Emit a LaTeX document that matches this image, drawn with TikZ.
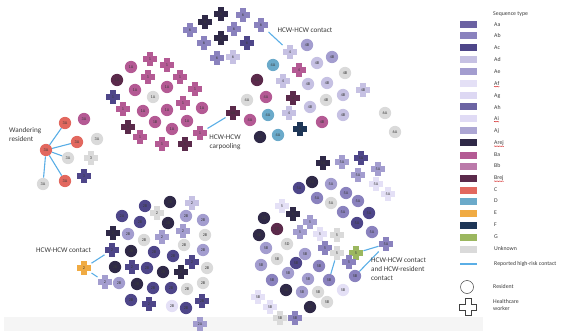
\documentclass[tikz,border=0pt]{standalone}
\usepackage{fontspec}
\setmainfont{Carlito}
\usetikzlibrary{decorations.pathmorphing}
\definecolor{Aa}{HTML}{6B62A2}
\definecolor{Ab}{HTML}{8A82BE}
\definecolor{Ac}{HTML}{4E4689}
\definecolor{Ad}{HTML}{C6C1E3}
\definecolor{Ae}{HTML}{A39DCF}
\definecolor{Af}{HTML}{E4E0F6}
\definecolor{Ag}{HTML}{DDD8F3}
\definecolor{Ah}{HTML}{6C64A3}
\definecolor{Ai}{HTML}{E0DBF5}
\definecolor{Aj}{HTML}{ACA6D3}
\definecolor{Arej}{HTML}{2F2947}
\definecolor{Ba}{HTML}{B45A94}
\definecolor{Bb}{HTML}{BB7AAA}
\definecolor{Brej}{HTML}{5B2A4B}
\definecolor{Cc}{HTML}{E2685F}
\definecolor{Dd}{HTML}{6BAACA}
\definecolor{Ee}{HTML}{F0AB43}
\definecolor{Ff}{HTML}{1E3657}
\definecolor{Gg}{HTML}{9BB75F}
\definecolor{Un}{HTML}{DADADA}
\definecolor{Lk}{HTML}{5AAEE6}
\definecolor{Tx}{HTML}{3A3A3A}
\newcommand\rc[4]{\node[res,fill=#3] (#1) at (#2) {#4};}
\newcommand\hw[4]{\node[hcw=#3] (#1) at (#2) {#4};}
\newcommand\lgi[3]{\node[swatch,fill=#2] (s#1) at (468,#3) {};\node[lgt] (t#1) at (494,#3) {#1};}
\begin{document}
\begin{tikzpicture}[x=1pt,y=-1pt,
  res/.style={circle,minimum size=12.3pt,inner sep=0pt,font=\fontsize{4.2}{4.2}\selectfont,text=Tx},
  hcw/.style={rectangle,minimum size=14.6pt,inner sep=0pt,font=\fontsize{4.2}{4.2}\selectfont,text=Tx,
    path picture={
      \fill[#1] ([shift={(-7.3pt,-2.9pt)}]path picture bounding box.center) rectangle ([shift={(7.3pt,2.9pt)}]path picture bounding box.center);
      \fill[#1] ([shift={(-2.9pt,-7.3pt)}]path picture bounding box.center) rectangle ([shift={(2.9pt,7.3pt)}]path picture bounding box.center);}},
  link/.style={draw=Lk,line width=1.1pt},
  note/.style={font=\fontsize{7.2}{9}\selectfont,text=Tx,inner sep=0pt},
  swatch/.style={rectangle,minimum width=17pt,minimum height=7pt,inner sep=0pt},
  lgt/.style={anchor=west,font=\fontsize{5.8}{7}\selectfont,text=Tx,inner sep=0pt},
  squig/.style={draw=red!80!black,line width=0.3pt,decorate,decoration={snake,amplitude=0.35pt,segment length=1.6pt}}]
\useasboundingbox (0,0) rectangle (561,331);
\fill[black!4] (4,317) rectangle (483,331);
% ---------- cluster 6
\hw{a1}{190,30}{Ab}{6}
\hw{a2}{205,22}{Arej}{6}
\hw{a3}{221,14}{Arej}{6}
\hw{a4}{243,15}{Ab}{6}
\hw{a5}{234,29}{Ab}{6}
\hw{a6}{261,25}{Ab}{6}
\hw{a7}{204,43}{Ab}{6}
\hw{a8}{221,38}{Arej}{6}
\hw{a9}{247,43}{Ac}{6}
\hw{a10}{217,58}{Ab}{6}
\hw{a11}{233,57}{Ad}{6}
% ---------- cluster 4
\hw{b1}{290,52}{Ad}{4}
\rc{b2}{307,45}{Ae}{4B}
\rc{b3}{332,57}{Ae}{4B}
\rc{b4}{317,63}{Ad}{4B}
\rc{b5}{273,65}{Dd}{4A}
\hw{b6}{299,70}{Ba}{4}
\rc{b7}{345,73}{Un}{4B}
\rc{b8}{257,80}{Brej}{4A}
\hw{b9}{283,81}{Ad}{4}
\rc{b10}{308,84}{Ad}{4B}
\rc{b11}{327,83}{Ad}{4B}
\hw{b12}{363,90}{Ad}{4B}
\rc{b13}{247,100}{Un}{4A}
\rc{b14}{266,97}{Ba}{4A}
\hw{b15}{293,98}{Brej}{4}
\rc{b16}{310,107}{Ad}{4B}
\rc{b17}{326,100}{Un}{4B}
\rc{b18}{343,95}{Ad}{4B}
\hw{b19}{233,113}{Brej}{4A}
\rc{b20}{250,120}{Ba}{4A}
\rc{b21}{268,115}{Dd}{4A}
\hw{b22}{289,113}{Ad}{4}
\rc{b23}{343,115}{Ad}{4B}
\rc{b24}{385,113}{Un}{6A}
\rc{b25}{260,137}{Arej}{4A}
\rc{b26}{278,135}{Dd}{4A}
\hw{b27}{300,129}{Ff}{4}
\rc{b28}{322,122}{Ba}{4B}
\rc{b29}{395,132}{Un}{6A}
% ---------- cluster 1
\hw{c1}{150,59}{Ba}{1}
\hw{c2}{167,65}{Ba}{1}
\rc{c3}{131,67}{Ba}{1A}
\hw{c4}{148,77}{Ba}{1}
\hw{c5}{180,77}{Ba}{1}
\rc{c6}{117,80}{Brej}{1A}
\rc{c7}{135,90}{Ba}{1A}
\rc{c8}{167,87}{Ba}{1A}
\hw{c9}{195,89}{Ba}{1}
\hw{c10}{113,97}{Ac}{1}
\rc{c11}{153,97}{Un}{1A}
\hw{c12}{123,109}{Ba}{1}
\rc{c13}{143,111}{Ba}{1A}
\rc{c14}{167,110}{Ba}{1A}
\hw{c15}{183,103}{Ba}{1}
\rc{c16}{202,108}{Ba}{1A}
\hw{c17}{128,127}{Brej}{1}
\rc{c18}{155,122}{Ba}{1B}
\rc{c19}{187,121}{Ba}{1A}
\rc{c20}{172,129}{Ba}{1A}
\hw{c21}{200,133}{Ba}{1}
\hw{c22}{140,137}{Ba}{1}
\hw{c23}{162,144}{Ba}{1}
\hw{c24}{185,144}{Brej}{1}
% ---------- cluster 3
\rc{d1}{46,150}{Cc}{3A}
\rc{d2}{65,123}{Cc}{3A}
\rc{d3}{84,119}{Ba}{3A}
\rc{d4}{77,142}{Cc}{3A}
\rc{d5}{97,139}{Un}{3A}
\rc{d6}{68,158}{Un}{3A}
\hw{d7}{91,158}{Un}{3}
\rc{d8}{43,184}{Un}{3A}
\rc{d9}{65,181}{Cc}{3A}
\hw{d10}{84,176}{Ac}{3}
% ---------- cluster 2
\hw{e1}{84,268}{Ee}{2}
\hw{e2}{112,250}{Ac}{2}
\hw{e3}{105,282}{Ae}{2}
\rc{e4}{145,206}{Ac}{2B}
\rc{e5}{170,202}{Arej}{2B}
\hw{e6}{192,203}{Ad}{2}
\rc{e7}{122,216}{Ac}{2A}
\hw{e8}{157,213}{Un}{2}
\rc{e9}{140,222}{Ac}{2B}
\rc{e10}{168,223}{Arej}{2B}
\rc{e11}{186,216}{Ae}{2B}
\rc{e12}{203,220}{Ae}{2B}
\hw{e13}{113,233}{Arej}{2}
\rc{e14}{128,234}{Ae}{2B}
\rc{e15}{144,240}{Un}{2B}
\hw{e16}{162,237}{Ae}{2}
\hw{e17}{183,231}{Ae}{2}
\rc{e18}{205,235}{Un}{2B}
\rc{e19}{184,245}{Un}{2B}
\rc{e20}{131,251}{Arej}{2B}
\rc{e21}{154,252}{Ac}{2B}
\rc{e22}{173,256}{Ac}{2B}
\rc{e23}{203,250}{Ae}{2B}
\hw{e24}{192,262}{Ac}{2}
\rc{e25}{115,267}{Arej}{2B}
\hw{e26}{132,267}{Ac}{2}
\rc{e27}{147,268}{Ac}{2B}
\rc{e28}{163,272}{Arej}{2B}
\hw{e29}{181,272}{Arej}{2}
\rc{e30}{207,268}{Un}{2B}
\rc{e31}{119,283}{Ae}{2B}
\rc{e32}{137,284}{Arej}{2B}
\rc{e33}{153,288}{Ac}{2B}
\rc{e34}{171,288}{Ac}{2B}
\rc{e35}{187,289}{Un}{2B}
\rc{e36}{203,283}{Un}{2B}
\rc{e37}{131,300}{Ac}{2B}
\hw{e38}{149,304}{Ac}{2}
\rc{e39}{172,306}{Af}{2B}
\rc{e40}{186,308}{Ac}{2B}
\hw{e41}{202,301}{Ac}{2B}
\hw{e42}{200,324}{Ae}{2A}
% ---------- cluster 5
\hw{f1}{323,163}{Arej}{5A}
\hw{f2}{342,162}{Ae}{5A}
\hw{f3}{361,158}{Ac}{5A}
\hw{f4}{358,175}{Ae}{5A}
\hw{f5}{378,169}{Ae}{5A}
\rc{f6}{312,182}{Arej}{5A}
\rc{f7}{299,188}{Ac}{5A}
\rc{f8}{331,184}{Ae}{5A}
\hw{f9}{376,184}{Af}{5A}
\rc{f10}{346,193}{Ab}{5A}
\hw{f11}{388,194}{Af}{5A}
\rc{f12}{317,198}{Ab}{5A}
\rc{f13}{331,203}{Un}{5A}
\rc{f14}{358,201}{Ab}{5A}
\hw{f15}{282,206}{Af}{5}
\rc{f16}{343,212}{Ab}{5A}
\rc{f17}{369,213}{Ac}{5A}
\hw{f18}{293,214}{Arej}{5}
\rc{f19}{264,218}{Arej}{5D}
\hw{f20}{310,222}{Ae}{5}
\rc{f21}{357,223}{Ac}{5A}
\rc{f22}{277,229}{Brej}{5D}
\hw{f23}{300,232}{Ae}{5}
\hw{f24}{320,234}{Af}{5}
\hw{f25}{337,235}{Un}{5}
\rc{f26}{372,232}{Ab}{5A}
\rc{f27}{259,235}{Arej}{5B}
\rc{f28}{287,244}{Un}{5D}
\hw{f29}{386,244}{Ab}{5A}
\rc{f30}{266,248}{Ae}{5B}
\hw{f31}{325,248}{Ab}{5}
\hw{f32}{337,253}{Un}{5}
\hw{f33}{356,253}{Gg}{5}
\rc{f34}{305,254}{Ae}{5B}
\rc{f35}{277,259}{Un}{5B}
\hw{f36}{349,262}{Ab}{5}
\rc{f37}{296,263}{Ac}{5B}
\rc{f38}{261,265}{Ae}{5B}
\rc{f39}{319,266}{Ab}{5B}
\rc{f40}{288,273}{Ae}{5B}
\rc{f41}{355,276}{Ab}{5B}
\rc{f42}{272,280}{Ab}{5B}
\rc{f43}{308,279}{Ae}{5B}
\rc{f44}{329,280}{Ab}{5B}
\rc{f45}{343,290}{Af}{5B}
\rc{f46}{286,290}{Arej}{5B}
\rc{f47}{302,292}{Ae}{5B}
\rc{f48}{318,292}{Un}{5B}
\rc{f49}{327,302}{Un}{5B}
\hw{f50}{258,297}{Af}{5B}
\rc{f51}{310,307}{Arej}{5D}
\hw{f52}{270,307}{Af}{5B}
\hw{f53}{280,318}{Un}{5B}
\hw{f54}{295,318}{Ab}{5B}
% ---------- connectors
\draw[link] (a6) -- (b1);
\draw[link] (c21) -- (b19);
\foreach \t in {d2,d4,d6,d8,d9} \draw[link] (d1) -- (\t);
\draw[link] (e1) -- (e2);
\draw[link] (e1) -- (e3);
\draw[link] (f29) -- (f33);
\draw[link] (f29) -- (f41);
\draw[link] (f32) -- (f44);
% ---------- annotations
\node[note] (n1) at (305,30) {HCW-HCW contact};
\node[note,align=center] (n2) at (225,142) {HCW-HCW\\carpooling};
\node[note,align=left,anchor=west] (n3) at (9,135) {Wandering\\resident};
\node[note,anchor=west] (n4) at (36,250) {HCW-HCW contact};
\node[note,align=left,anchor=north west] (n5) at (371,258) {HCW-HCW contact\\and HCW-resident\\contact};
% ---------- legend
\node[lgt] (lt) at (493,14) {Sequence type};
\lgi{Aa}{Aa}{25}
\lgi{Ab}{Ab}{36}
\lgi{Ac}{Ac}{48}
\lgi{Ad}{Ad}{60}
\lgi{Ae}{Ae}{72}
\lgi{Af}{Af}{84}
\lgi{Ag}{Ag}{96}
\lgi{Ah}{Ah}{107}
\lgi{Ai}{Ai}{119}
\lgi{Aj}{Aj}{131}
\lgi{Arej}{Arej}{143}
\lgi{Ba}{Ba}{155}
\lgi{Bb}{Bb}{166}
\lgi{Brej}{Brej}{178}
\lgi{C}{Cc}{190}
\lgi{D}{Dd}{201}
\lgi{E}{Ee}{213}
\lgi{F}{Ff}{225}
\lgi{G}{Gg}{237}
\lgi{Unknown}{Un}{249}
\draw[squig] ([yshift=-0.5pt]tAf.south west) -- ([yshift=-0.5pt]tAf.south east);
\draw[squig] ([yshift=-0.5pt]tAi.south west) -- ([yshift=-0.5pt]tAi.south east);
\draw[squig] ([yshift=-0.5pt]tArej.south west) -- ([yshift=-0.5pt]tArej.south east);
\draw[squig] ([yshift=-0.5pt]tBrej.south west) -- ([yshift=-0.5pt]tBrej.south east);
\coordinate (k1) at (460,264);
\coordinate (k2) at (477,264);
\draw[draw=Lk,line width=1.6pt] (k1) -- (k2);
\node[lgt] (tk) at (494,264) {Reported high-risk contact};
\node[circle,draw=black!75,line width=0.5pt,minimum size=13pt,inner sep=0pt] (lres) at (467,287) {};
\node[lgt] (tres) at (493,287) {Resident};
\node[inner sep=0pt,minimum size=17pt] (lhcw) at (468,307) {};
\draw[black!75,line width=0.5pt,shift={(lhcw.center)}] (-3,-8.5) -- (3,-8.5) -- (3,-3) -- (8.5,-3) -- (8.5,3) -- (3,3) -- (3,8.5) -- (-3,8.5) -- (-3,3) -- (-8.5,3) -- (-8.5,-3) -- (-3,-3) -- cycle;
\node[lgt,align=left] (thcw) at (493,305) {Healthcare\\worker};
\end{tikzpicture}
\end{document}
